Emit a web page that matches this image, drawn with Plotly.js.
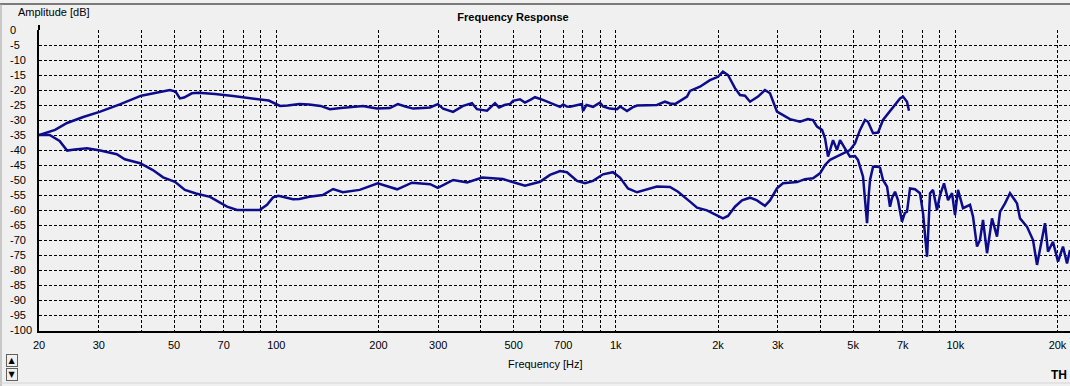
<!DOCTYPE html>
<html>
<head>
<meta charset="utf-8">
<script src="https://cdn.plot.ly/plotly-3.0.1.min.js"></script>
<style>
html, body { margin: 0; padding: 0; background: #f0f0f0; overflow: hidden; }
#chart { width: 1070px; height: 386px; }
</style>
</head>
<body>
<div id="chart"></div>
<script>
// ---- Data ----
// Curve A (jagged): 20 Hz .. beyond 20 kHz
const freqA = [20, 22.3, 24.2, 27, 30.3, 34.6, 40, 45.4, 48.6, 50.5, 52, 53.5, 56.4, 59, 66, 74.6, 82, 89.3, 95, 102.6, 108, 117,
  125, 135, 143.9, 155, 165, 180, 190, 198, 216, 228, 240, 253, 270, 283.7, 299, 310, 331.6, 355, 377, 390, 417.5, 440.7, 453, 470,
  488, 498, 522, 540, 560, 578, 610, 653, 685, 700, 718, 733, 770, 795, 801, 820, 857, 898, 917, 960, 1008, 1030, 1079, 1120, 1155,
  1250, 1322, 1396, 1444, 1494, 1560, 1621, 1654, 1770, 1894, 2000, 2068, 2140, 2244, 2322, 2402, 2485, 2624, 2750, 2846, 2984,
  3046, 3258, 3488, 3682, 3732, 3810, 3914, 4050, 4134, 4218, 4276, 4364, 4484, 4576, 4798, 4896, 5064, 5168, 5348, 5460, 5496,
  5560, 5608, 5724, 5920, 6002, 6124, 6294, 6422, 6510, 6644, 6780, 6966, 7100, 7206, 7354, 7608, 7872, 8036, 8256, 8426, 8598,
  8834, 9016, 9264, 9520, 9780, 9982, 10186, 10538, 10826, 11050, 11276, 11586, 11824, 12068, 12400, 12828, 13270, 13542, 14010,
  14492, 15198, 15510, 16266, 16940, 17406, 17764, 18376, 18752, 19398, 20070, 20760, 21332, 21772];
const dbA = [-35, -33.3, -31, -29, -27.2, -24.8, -21.9, -20.7, -20, -20.5, -22.8, -22.5, -21.1, -20.9, -21.3, -22, -22.5, -23, -23.5, -25.3, -25.2, -24.7,
  -24.8, -25.3, -26.4, -26, -25.8, -25.3, -25.8, -26.2, -26, -24.7, -25.5, -26.2, -26, -25.8, -24.7, -26.2, -27.3, -25.3, -24.4, -26.4, -26.9, -24.4, -25.8, -25,
  -24.7, -23.6, -23.1, -24.2, -23.3, -22.4, -23.3, -24.7, -25.6, -24.8, -25.5, -25.6, -25, -24.7, -27, -25, -25.6, -24.2, -25.5, -26.2, -26.4, -25.5, -27, -25.8, -25.2,
  -25.2, -25, -23.9, -24.5, -24.7, -23.5, -22.2, -20.3, -18.9, -16.7, -15.6, -13.9, -15, -19.4, -21.7, -21.9, -23.9, -22.2, -20, -21.1, -27.2,
  -27.8, -29.7, -30.6, -29.7, -29.8, -30, -32.2, -33.3, -36.1, -42.2, -40, -36.7, -40, -36.7, -40.6, -42.2, -42, -43.3, -48.9, -62.2, -64.4,
  -55, -50, -45.6, -45.5, -45.9, -50, -52.2, -58.9, -56, -53.9, -56.7, -63.9, -61, -60.6, -52.8, -53.1, -54.4, -61.1, -75.6, -54.4, -53.3,
  -60, -55, -51.1, -56.7, -54.4, -61.7, -53.3, -59.4, -58.9, -58.3, -62.2, -72.2, -70, -63.3, -74.4, -62.8, -68.9, -60.6, -57.8,
  -54.4, -57.8, -62.8, -65.6, -70, -78.3, -73.3, -64.4, -73.9, -70.6, -77.2, -72.2, -77.8, -73.3];

// Curve B (smooth): 20 Hz .. 7.3 kHz
const freqB = [20, 21.5, 23, 24.2, 25.5, 27.7, 30.3, 33.9, 35.8, 39.7, 43.3, 46.4, 50.3, 53.8, 58, 63.8, 71.6, 76.6, 89.3, 93.9, 97.8,
  101.4, 112, 117, 125, 137, 147, 157, 176, 199, 227, 251, 284, 299, 332, 365, 404, 465, 540, 598, 640, 685, 718, 769, 812, 857,
  917, 981, 1029, 1086, 1155, 1236, 1322, 1444, 1525, 1654, 1735, 1856, 1987, 2068, 2140, 2244, 2354, 2485, 2606, 2750, 2846, 2984,
  3108, 3418, 3608, 3810, 3994, 4134, 4276, 4576, 4896, 5064, 5240, 5420, 5532, 5724, 5920, 6124, 6510, 6874, 7014, 7206, 7304];
const dbB = [-35, -35, -37, -40.2, -39.8, -39.4, -40.2, -41.4, -43.1, -44.4, -46.7, -49.1, -50.6, -53.3, -54.5, -55.6, -58.9, -60, -60, -58.3, -55.8,
  -55.3, -56.4, -56.3, -55.6, -55, -53, -54.1, -53.3, -51.1, -53.1, -50.9, -51.4, -52.6, -50, -50.8, -49.2, -49.7, -51.9, -50.6, -48.3, -47, -47.4, -50.3, -51.1, -50.3,
  -48.1, -47.4, -49.2, -52.8, -54.1, -53.1, -52.2, -52.3, -53.9, -57.2, -59.2, -60.1, -61.9, -62.8, -62, -58.9, -56.8, -55.9, -56.8, -58.6, -56.8, -52.8,
  -51.1, -50.7, -49.7, -49.4, -47.8, -45, -43.3, -41.7, -40, -37.8, -33.3, -30, -30.6, -34.4, -34.2, -30, -26.1, -22.8, -22.2, -23.9, -26.9];

// Axis ticks
const xGrid = [20, 30, 40, 50, 60, 70, 80, 90, 100, 200, 300, 400, 500, 600, 700, 800, 900, 1000,
  2000, 3000, 4000, 5000, 6000, 7000, 8000, 9000, 10000, 20000];
const xLabels = ['20', '30', '', '50', '', '70', '', '', '100', '200', '300', '', '500', '', '700', '', '', '1k',
  '2k', '3k', '', '5k', '', '7k', '', '', '10k', '20k'];
const xMinorTicks = [40, 60, 80, 90, 400, 600, 800, 900, 4000, 6000, 8000, 9000];
const yTicks = [0, -5, -10, -15, -20, -25, -30, -35, -40, -45, -50, -55, -60, -65, -70, -75, -80, -85, -90, -95, -100];
const yLabels = yTicks.map(String);

const lineColor = '#0c0c8c';
const font = 'Liberation Sans, Arial, sans-serif';

const traces = [
  { x: freqA, y: dbA, type: 'scatter', mode: 'lines', line: { color: lineColor, width: 2.5 }, hoverinfo: 'skip', showlegend: false },
  { x: freqB, y: dbB, type: 'scatter', mode: 'lines', line: { color: lineColor, width: 2.5 }, hoverinfo: 'skip', showlegend: false }
];

const xr = [Math.log10(20), Math.log10(20) + (1070 - 39) / 339.5];
const yr = [-100.333, 0];
const dom0 = 33 / 1064;

// y tick labels: left-aligned, as in the reference
const yLabelAnns = yTicks.map((v, i) => ({
  text: yLabels[i], xref: 'paper', yref: 'y', x: 2 / 1064, xanchor: 'left', y: v, yanchor: 'middle',
  showarrow: false, font: { family: font, size: 11, color: '#000' }
}));

const layout = {
  width: 1070, height: 386,
  margin: { l: 6, r: 0, t: 30, b: 55, pad: 0 },
  paper_bgcolor: '#f0f0f0', plot_bgcolor: '#f0f0f0',
  font: { family: font, size: 11, color: '#000' },
  showlegend: false,
  title: { text: '<b>Frequency Response</b>', x: 513 / 1070, xanchor: 'center', y: 1 - 16.7 / 386, yanchor: 'middle',
    font: { family: font, size: 11, color: '#000' } },
  xaxis: {
    type: 'log', range: xr, domain: [dom0, 1], anchor: 'y',
    tickmode: 'array', tickvals: xGrid, ticktext: xLabels, ticks: '', ticklabelstandoff: 3,
    showgrid: true, gridcolor: '#000', gridwidth: 1, griddash: '3px,2px',
    showline: true, linecolor: '#000', linewidth: 2, zeroline: false,
    tickfont: { family: font, size: 11, color: '#000' }, fixedrange: true
  },
  xaxis2: {
    type: 'log', range: xr, domain: [dom0, 1], anchor: 'y', overlaying: 'x', side: 'bottom',
    tickmode: 'array', tickvals: xMinorTicks, showticklabels: false,
    ticks: 'outside', ticklen: 7, tickwidth: 1, tickcolor: '#000',
    showgrid: false, showline: false, zeroline: false, fixedrange: true
  },
  yaxis: {
    range: yr, anchor: 'x', tickmode: 'array', tickvals: yTicks, showticklabels: false, ticks: '',
    showgrid: true, gridcolor: '#000', gridwidth: 1, griddash: '3px,2px',
    showline: true, linecolor: '#000', linewidth: 2, zeroline: false, fixedrange: true
  },
  shapes: [
    { type: 'line', xref: 'paper', yref: 'paper', x0: dom0, x1: dom0, y0: 1, y1: 1 + 5 / 301, line: { color: '#000', width: 2 } },
    { type: 'line', xref: 'paper', yref: 'paper', x0: -6 / 1064, x1: 1, y0: 1 + 26 / 301, y1: 1 + 26 / 301, line: { color: '#7a7a7a', width: 2 } },
    { type: 'line', xref: 'paper', yref: 'paper', x0: -5 / 1064, x1: -5 / 1064, y0: 1 + 26 / 301, y1: -356 / 301 + 1, line: { color: '#a0a0a0', width: 1 } },
    { type: 'line', xref: 'paper', yref: 'paper', x0: -6 / 1064, x1: 1, y0: 1 - 353 / 301, y1: 1 - 353 / 301, line: { color: '#d6d6d6', width: 1 } }
  ],
  annotations: yLabelAnns.concat([
    { text: 'Amplitude [dB]', xref: 'paper', yref: 'paper', x: 10 / 1064, xanchor: 'left', y: 1 + 17.5 / 301, yanchor: 'middle', showarrow: false,
      font: { family: font, size: 11, color: '#000' } },
    { text: 'Frequency [Hz]', xref: 'paper', yref: 'paper', x: 539.5 / 1064, xanchor: 'center', y: 1 - 334 / 301, yanchor: 'middle', showarrow: false,
      font: { family: font, size: 11, color: '#000' } },
    { text: '<b>TH</b>', xref: 'paper', yref: 'paper', x: 1063 / 1064, xanchor: 'right', y: 1 - 345 / 301, yanchor: 'middle', showarrow: false,
      font: { family: font, size: 12, color: '#000' } },
    { text: '▲', xref: 'paper', yref: 'paper', x: 5.5 / 1064, xanchor: 'center', y: 1 - 330 / 301, yanchor: 'middle', showarrow: false,
      font: { family: 'DejaVu Sans', size: 8, color: '#000' }, bgcolor: '#f0f0f0', bordercolor: '#606060', borderwidth: 1, width: 10, height: 11, borderpad: 0 },
    { text: '▼', xref: 'paper', yref: 'paper', x: 5.5 / 1064, xanchor: 'center', y: 1 - 344 / 301, yanchor: 'middle', showarrow: false,
      font: { family: 'DejaVu Sans', size: 8, color: '#000' }, bgcolor: '#f0f0f0', bordercolor: '#606060', borderwidth: 1, width: 10, height: 11, borderpad: 0 }
  ])
};

Plotly.newPlot('chart', traces, layout, { displayModeBar: false, staticPlot: true });
</script>
</body>
</html>
